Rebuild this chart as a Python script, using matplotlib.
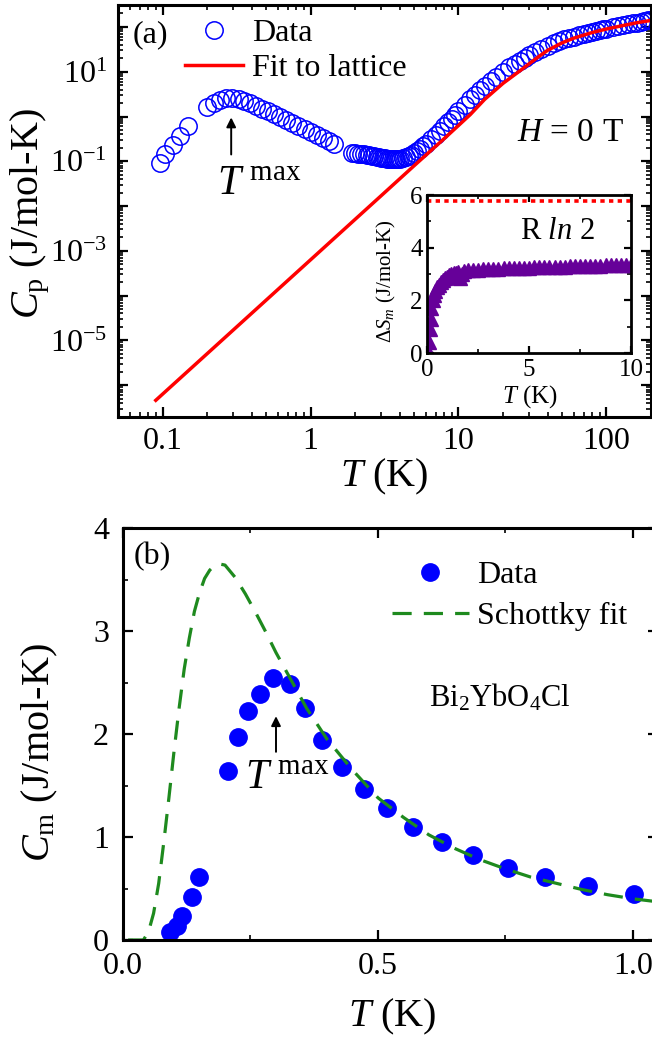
import numpy as np
import matplotlib
matplotlib.use("Agg")
import matplotlib.pyplot as plt
from matplotlib.ticker import LogLocator, FixedLocator, MultipleLocator, NullFormatter, FuncFormatter

plt.rcParams['font.family'] = ['Liberation Serif', 'DejaVu Serif']
plt.rcParams['mathtext.fontset'] = 'custom'
plt.rcParams['mathtext.rm'] = 'Liberation Serif'
plt.rcParams['mathtext.it'] = 'Liberation Serif:italic'
plt.rcParams['mathtext.bf'] = 'Liberation Serif:bold'

# ---- panel (a): total heat capacity, log-log ----
cp_T = [0.0954, 0.1047, 0.1174, 0.1317, 0.148,
        0.2, 0.222, 0.246, 0.27, 0.295, 0.327, 0.357, 0.39, 0.43, 0.47, 0.517,
        0.568, 0.625, 0.686, 0.754, 0.827, 0.911, 1.0, 1.1, 1.21, 1.33, 1.45,
        1.9, 2.0, 2.1, 2.2, 2.3, 2.4, 2.5, 2.6, 2.7, 2.8, 2.9, 3.0, 3.1, 3.2,
        3.3, 3.4, 3.5, 3.6, 3.7, 3.8, 3.9, 4.0, 4.2, 4.4, 4.6, 4.8, 5.0, 5.25,
        5.5, 5.75, 6.0, 6.5, 7.0, 7.5, 8.0, 8.5, 9.0, 9.5, 10, 11, 12, 13, 14,
        15, 16.5, 18, 20, 22, 24, 26, 28, 30, 33, 36, 40, 44, 48, 52, 56, 60,
        65, 70, 75, 80, 85, 90, 95, 100, 110, 120, 130, 140, 150, 160, 170,
        180, 190, 200]
cp_C = [0.093, 0.143, 0.227, 0.365, 0.61,
        1.6, 2.0, 2.35, 2.55, 2.62, 2.5, 2.25, 1.98, 1.72, 1.5, 1.3,
        1.12, 0.96, 0.83, 0.71, 0.61, 0.52, 0.45, 0.39, 0.33, 0.28, 0.24,
        0.155, 0.152, 0.149, 0.146, 0.142, 0.139, 0.136, 0.133, 0.13, 0.127,
        0.124, 0.121, 0.118, 0.116, 0.114, 0.112, 0.111, 0.11, 0.11, 0.11,
        0.111, 0.113, 0.117, 0.123, 0.131, 0.141, 0.153, 0.17, 0.19, 0.215,
        0.245, 0.31, 0.39, 0.48, 0.6, 0.74, 0.9, 1.08, 1.3, 1.8, 2.4, 3.1,
        3.9, 4.8, 6.2, 7.8, 10, 12.5, 15, 17.8, 20.6, 23.5, 28, 32.5, 38, 43,
        48, 52.5, 57, 61, 66, 70, 74, 78, 82, 85.5, 89, 92, 98, 104, 110, 115,
        120, 125, 130, 135, 140, 145]

lat_T = [0.09, 0.3, 1, 3, 5, 8, 10, 12, 15, 20, 25, 30, 35, 40, 50, 60, 80,
         100, 130, 160, 200]
lat_C = [4.6e-7, 1.7e-5, 6.3e-4, 1.7e-2, 0.079, 0.32, 0.63, 1.1, 2.4, 5.5,
         9.5, 15, 22, 30, 44, 56, 75, 90, 108, 124, 140]

# ---- inset: magnetic entropy ----
s_T = [0.1, 0.12, 0.15, 0.18, 0.22, 0.27, 0.33, 0.4, 0.5, 0.6, 0.7, 0.8,
       0.9, 1.0, 1.1, 1.2, 1.3, 1.4, 1.5, 1.6, 1.7, 1.8,
       2.0, 2.25, 2.5, 2.75, 3.0, 3.25, 3.5, 3.75, 4.0, 4.25, 4.5, 4.75, 5.0,
       5.25, 5.5, 5.75, 6.0, 6.25, 6.5, 6.75, 7.0, 7.25, 7.5, 7.75, 8.0, 8.25,
       8.5, 8.75, 9.0, 9.25, 9.5, 9.75, 10.0]
s_S = [0.0, 0.4, 0.9, 1.3, 1.7, 2.0, 2.2, 2.35, 2.5, 2.6, 2.7, 2.78,
       2.85, 2.9, 2.95, 2.99, 3.02, 3.05, 3.07, 2.85, 3.0, 3.12,
       3.15, 3.16, 3.17, 3.18, 3.19, 3.2, 3.2, 3.21, 3.22, 3.22, 3.23, 3.24,
       3.24, 3.25, 3.25, 3.26, 3.27, 3.27, 3.28, 3.28, 3.29, 3.3, 3.3, 3.31,
       3.31, 3.32, 3.32, 3.33, 3.33, 3.34, 3.34, 3.35, 3.35]
rln2 = 5.76

# ---- panel (b): magnetic heat capacity ----
cm_T = [0.092, 0.106, 0.115, 0.135, 0.149, 0.206, 0.225, 0.246, 0.268,
        0.295, 0.327, 0.357, 0.39, 0.429, 0.472, 0.517, 0.568, 0.625, 0.686,
        0.754, 0.827, 0.911, 1.002]
cm_C = [0.08, 0.14, 0.23, 0.42, 0.61, 1.64, 1.97, 2.22, 2.39, 2.54, 2.49,
        2.25, 1.94, 1.68, 1.47, 1.28, 1.10, 0.95, 0.83, 0.70, 0.61, 0.52, 0.45]

sch_T = [0.01, 0.02, 0.04, 0.05, 0.06, 0.07, 0.08, 0.09, 0.10, 0.11, 0.12,
         0.13, 0.14, 0.15, 0.16, 0.17, 0.18, 0.19, 0.20, 0.22, 0.24, 0.26,
         0.28, 0.30, 0.33, 0.36, 0.40, 0.45, 0.50, 0.55, 0.60, 0.65, 0.70,
         0.75, 0.80, 0.85, 0.90, 0.95, 1.00, 1.05]
sch_C = [0.0, 0.0, 0.0, 0.08, 0.26, 0.55, 0.95, 1.38, 1.83, 2.25, 2.63,
         2.93, 3.19, 3.37, 3.51, 3.59, 3.64, 3.65, 3.64, 3.52, 3.36, 3.18,
         2.99, 2.79, 2.52, 2.25, 1.95, 1.65, 1.38, 1.19, 1.02, 0.89, 0.78,
         0.69, 0.61, 0.55, 0.49, 0.44, 0.40, 0.37]

W, H = 652, 1041
fig = plt.figure(figsize=(W / 100, H / 100), dpi=100)


def rect(l, t, r, b):
    return [l / W, 1 - b / H, (r - l) / W, (b - t) / H]


def style(ax, lw=2.2, size=23):
    for s in ax.spines.values():
        s.set_linewidth(lw)
    ax.tick_params(which='both', direction='in', top=True, right=True,
                   labelsize=size)
    ax.tick_params(which='major', length=7, width=1.6)
    ax.tick_params(which='minor', length=3.5, width=1.2)


# panel (a)
ax1 = fig.add_axes(rect(118, 5, 651, 417))
ax1.plot(cp_T, cp_C, 'o', ms=12.5, mfc='none', mec='blue', mew=1.1, label='Data')
ax1.plot(lat_T, lat_C, '-', color='red', lw=2.5, label='Fit to lattice')
ax1.set_xscale('log')
ax1.set_yscale('log')
ax1.set_xlim(0.05, 200)
ax1.set_ylim(10 ** -6.71, 10 ** 2.49)
style(ax1)
ax1.xaxis.set_major_locator(FixedLocator([0.1, 1, 10, 100]))
ax1.xaxis.set_major_formatter(FuncFormatter(lambda v, p: '%g' % v))
ax1.xaxis.set_minor_locator(LogLocator(subs=np.arange(2, 10), numticks=20))
ax1.xaxis.set_minor_formatter(NullFormatter())
ax1.yaxis.set_major_locator(FixedLocator([10.0 ** k for k in range(-6, 3)]))
ax1.yaxis.set_major_formatter(FuncFormatter(
    lambda v, p: (r'$10^{%d}$' % round(np.log10(v))) if round(np.log10(v)) % 2 else ''))
ax1.yaxis.set_minor_locator(LogLocator(subs=np.arange(2, 10), numticks=20))
ax1.yaxis.set_minor_formatter(NullFormatter())
ax1.tick_params(axis='x', pad=7)
ax1.tick_params(axis='y', pad=8)
ax1.set_xlabel(r'$T$ (K)', fontsize=29)
ax1.set_ylabel(r'$C_{\mathrm{p}}$ (J/mol-K)', fontsize=29)
ax1.xaxis.label.set_va('center')
ax1.xaxis.set_label_coords(0.5, -0.146)
ax1.yaxis.label.set_va('center')
ax1.yaxis.set_label_coords(-0.165, 0.495)
ax1.legend(loc='upper left', bbox_to_anchor=((185 - 118) / 533, (417 - 19) / 412),
           frameon=False, fontsize=23, borderpad=0, borderaxespad=0,
           handlelength=1.8, handletextpad=0.3, labelspacing=0.17)
ax1.text(0.06, 0.927, '(a)', transform=ax1.transAxes, fontsize=23,
         ha='center', va='center')
ax1.text(0.848, 0.689, r'$H$ = 0 T', transform=ax1.transAxes, fontsize=24,
         ha='center', va='center')
ax1.text(0.186, 0.565, r'$T^{\ \mathrm{max}}$', transform=ax1.transAxes,
         fontsize=30, ha='left', va='center')
ax1.annotate('', xy=(0.291, 1.1), xytext=(0.291, 0.123),
             arrowprops=dict(arrowstyle='-|>', color='k', lw=1.4,
                             mutation_scale=14))

# inset
ins = fig.add_axes(rect(427, 195, 631, 353))
ins.plot(s_T, s_S, '^', ms=10, color='#660099', mec='#660099')
ins.axhline(rln2, color='red', ls=(0, (1.2, 1.2)), lw=2.6)
ins.set_xlim(0, 10)
ins.set_ylim(0, 6)
style(ins, lw=2.0, size=18)
ins.xaxis.set_major_locator(MultipleLocator(5))
ins.xaxis.set_minor_locator(MultipleLocator(2.5))
ins.yaxis.set_major_locator(MultipleLocator(2))
ins.yaxis.set_minor_locator(MultipleLocator(1))
ins.tick_params(which='major', length=5)
ins.tick_params(which='minor', length=3)
ins.tick_params(axis='x', pad=4)
ins.tick_params(axis='y', pad=3)
ins.set_xlabel(r'$T$ (K)', fontsize=18)
ins.set_ylabel(r'$\Delta S_m$ (J/mol-K)', fontsize=15)
ins.xaxis.label.set_va('center')
ins.xaxis.set_label_coords(0.505, -0.278)
ins.yaxis.label.set_va('center')
ins.yaxis.set_label_coords(-0.2, 0.456)
ins.text(0.456, 0.766, r'R $ln$ 2', transform=ins.transAxes, fontsize=22,
         ha='left', va='center')

# panel (b)
ax2 = fig.add_axes(rect(123, 528, 658.5, 940))
ax2.plot(cm_T, cm_C, 'o', ms=12.5, color='blue', mec='blue', label='Data')
ax2.plot(sch_T, sch_C, color='#1e8a1e', lw=2.3, ls=(0, (6, 3.8)),
         label='Schottky fit')
ax2.set_xlim(0, 1.05)
ax2.set_ylim(0, 4)
style(ax2)
ax2.xaxis.set_major_locator(MultipleLocator(0.5))
ax2.xaxis.set_minor_locator(MultipleLocator(0.25))
ax2.xaxis.set_major_formatter(FuncFormatter(lambda v, p: '%.1f' % v))
ax2.yaxis.set_major_locator(MultipleLocator(1))
ax2.yaxis.set_minor_locator(MultipleLocator(0.5))
ax2.tick_params(axis='x', pad=9)
ax2.tick_params(axis='y', pad=10)
ax2.set_xlabel(r'$T$ (K)', fontsize=29)
ax2.set_ylabel(r'$C_{\mathrm{m}}$ (J/mol-K)', fontsize=29)
ax2.xaxis.label.set_va('center')
ax2.xaxis.set_label_coords(0.502, -0.187)
ax2.yaxis.label.set_va('center')
ax2.yaxis.set_label_coords(-0.155, 0.454)
ax2.legend(loc='upper left', bbox_to_anchor=((392 - 123) / 535.5, (940 - 561) / 412),
           frameon=False, fontsize=23, borderpad=0, borderaxespad=0,
           handlelength=2.4, handletextpad=0.25, labelspacing=0.35)
ax2.text(0.054, 0.93, '(b)', transform=ax2.transAxes, fontsize=23,
         ha='center', va='center')
ax2.text((429 - 123) / 535.5, (940 - 698) / 412, r'Bi$_2$YbO$_4$Cl',
         transform=ax2.transAxes, fontsize=22, ha='left', va='center')
ax2.text((245 - 123) / 535.5, (940 - 778) / 412, r'$T^{\ \mathrm{max}}$',
         transform=ax2.transAxes, fontsize=30, ha='left', va='center')
ax2.annotate('', xy=(0.3, 2.2), xytext=(0.3, 1.8),
             arrowprops=dict(arrowstyle='-|>', color='k', lw=1.4,
                             mutation_scale=14))

fig.savefig('out.png', dpi=100)
